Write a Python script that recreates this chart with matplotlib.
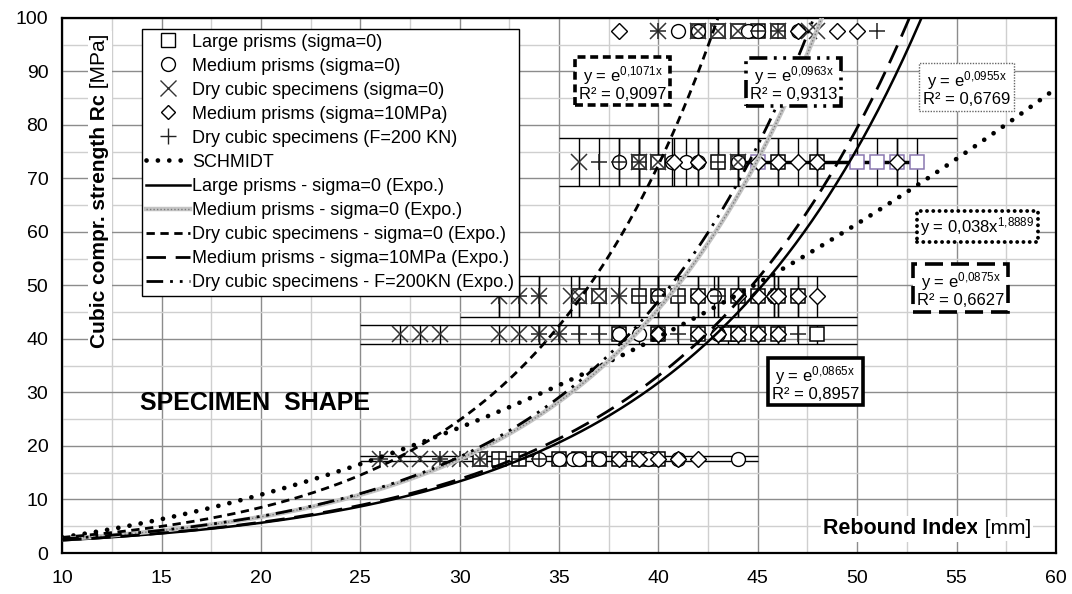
import matplotlib
matplotlib.use("Agg")
import numpy as np
import matplotlib.pyplot as plt
from matplotlib.lines import Line2D
from matplotlib.ticker import MultipleLocator

plt.rcParams['font.family'] = ['Liberation Sans', 'DejaVu Sans']
plt.rcParams['mathtext.fontset'] = 'custom'
plt.rcParams['mathtext.rm'] = 'Liberation Sans'

# ---- measured points: rebound index (x) vs cubic strength (y) ----
large_x = [31, 32, 33, 35, 36, 37, 38, 39, 40,
           38, 40, 42, 43.5, 44, 45, 46, 48,
           36, 37, 39, 40, 41, 42, 43, 44, 45, 46, 47,
           39, 40, 43, 44, 46, 48,
           42, 43, 44, 45, 46]
large_y = [17.5, 17.5, 17.5, 17.5, 17.5, 17.5, 17.5, 17.5, 17.5,
           41, 41, 41, 41, 41, 41, 41, 41,
           48, 48, 48, 48, 48, 48, 48, 48, 48, 48, 48,
           73, 73, 73, 73, 73, 73,
           97.5, 97.5, 97.5, 97.5, 97.5]
large_violet_x = [45, 50, 51, 52, 53]
large_violet_y = [73, 73, 73, 73, 73]

medium_x = [34, 35, 35.7, 36, 37, 39.5, 41, 44,
            38, 39, 40, 43,
            40, 42.8, 45.8,
            38, 40.7, 41.4, 42, 44,
            41, 42, 44.5, 45, 47]
medium_y = [17.5, 17.5, 17.5, 17.5, 17.5, 17.5, 17.5, 17.5,
            41, 41, 41, 41,
            48, 48, 48,
            73, 73, 73, 73, 73,
            97.5, 97.5, 97.5, 97.5, 97.5]

drycube_x = [26, 27, 28, 29, 30, 31,
             27, 28, 29, 32, 33, 34, 35,
             32, 33, 34, 35.6, 36, 37, 38,
             36, 39, 40, 44,
             40, 42, 43, 44, 46, 47.6, 48]
drycube_y = [17.5, 17.5, 17.5, 17.5, 17.5, 17.5,
             41, 41, 41, 41, 41, 41, 41,
             48, 48, 48, 48, 48, 48, 48,
             73, 73, 73, 73,
             97.5, 97.5, 97.5, 97.5, 97.5, 97.5, 97.5]

medium10_x = [38, 39, 40, 41, 42,
              40, 42, 43, 44, 45, 46,
              42, 44, 45, 45.8, 46, 47, 48,
              40.8, 42, 45, 46, 47, 48, 52,
              38, 47, 49, 50]
medium10_y = [17.5, 17.5, 17.5, 17.5, 17.5,
              41, 41, 41, 41, 41, 41,
              48, 48, 48, 48, 48, 48, 48,
              73, 73, 73, 73, 73, 73, 73,
              97.5, 97.5, 97.5, 97.5]

cubeF_x = [26, 29, 30, 31, 32, 33, 34,
           34, 35, 36, 37, 41, 47,
           32, 33, 34, 38, 39, 40, 41, 43,
           37, 38, 39, 43,
           40, 45, 46, 51]
cubeF_y = [17.5, 17.5, 17.5, 17.5, 17.5, 17.5, 17.5,
           41, 41, 41, 41, 41, 41,
           48, 48, 48, 48, 48, 48, 48, 48,
           73, 73, 73, 73,
           97.5, 97.5, 97.5, 97.5]

# scatter bands of each strength class (limits of the vertical bars)
band_level = [17.5, 41, 48, 73]
band_low = [17.2, 39.1, 44.1, 68.5]
band_high = [18.2, 42.6, 51.8, 77.5]
band_from = [25, 25, 30, 35]
band_to = [45, 50, 50, 55]
link_x = [44, 53]
link_y = [73, 73]

# ---- regression laws ----
schmidt_a, schmidt_b = 0.038, 1.8889
k_large = 0.0865
k_medium = 0.0955
k_drycube = 0.1071
k_medium10 = 0.0875
k_cubeF = 0.0963

fig = plt.figure(figsize=(10.72, 5.94), dpi=100)
ax = fig.add_axes([0.058, 0.069, 0.927, 0.901])
ax.set_xlim(10, 60)
ax.set_ylim(0, 100)
ax.xaxis.set_major_locator(MultipleLocator(5))
ax.xaxis.set_minor_locator(MultipleLocator(2.5))
ax.yaxis.set_major_locator(MultipleLocator(10))
ax.yaxis.set_minor_locator(MultipleLocator(5))
ax.grid(which='major', color='#8c8c8c', lw=1.0, zorder=0)
ax.grid(which='minor', color='#cfcfcf', lw=1.0, zorder=0)
ax.set_axisbelow(True)
ax.tick_params(which='both', length=0, labelsize=14)
ax.tick_params(axis='x', pad=12)
ax.tick_params(axis='y', pad=10)
for s in ax.spines.values():
    s.set_linewidth(1.6)
    s.set_color('black')

# bands and vertical bars
for lv, lo, hi, x0, x1 in zip(band_level, band_low, band_high, band_from, band_to):
    ax.hlines([lo, hi], x0, x1, color='black', lw=1.0, zorder=2)
all_x = large_x + large_violet_x + medium_x + drycube_x + medium10_x + cubeF_x
all_y = large_y + large_violet_y + medium_y + drycube_y + medium10_y + cubeF_y
for xv, yv in zip(all_x, all_y):
    if yv in band_level:
        i = band_level.index(yv)
        ax.vlines(xv, band_low[i], band_high[i], color='black', lw=1.0, zorder=2)
ax.plot(link_x, link_y, color='black', lw=2.5, zorder=2)

mk = dict(ls='none', mfc='white', zorder=3)
ax.plot(large_x, large_y, marker='s', ms=10, mec='black', mew=1.1, **mk)
ax.plot(large_violet_x, large_violet_y, marker='s', ms=10, mec='#8a78b0', mew=1.1, **mk)
ax.plot(medium_x, medium_y, marker='o', ms=10, mec='black', mew=1.0, **mk)
ax.plot(medium10_x, medium10_y, marker='D', ms=8, mec='black', mew=1.0, **mk)
ax.plot(drycube_x, drycube_y, marker='x', ms=11, mec='#333333', mew=1.1, ls='none', zorder=4)
ax.plot(cubeF_x, cubeF_y, marker='+', ms=12, mec='#222222', mew=1.1, ls='none', zorder=4)

# fitted curves
xx = np.linspace(10, 60, 600)
schmidt_ls = (0, (0.01, 2.4))
gray_dots = (0, (1, 1.5))
cubeF_ls = (0, (6, 2.5, 1, 2.5, 1, 2.5))
ax.plot(xx, schmidt_a * xx ** schmidt_b, color='black', lw=3.4,
        ls=schmidt_ls, dash_capstyle='round', zorder=5)
ax.plot(xx, np.exp(k_large * xx), color='black', lw=1.8, zorder=5)
ax.plot(xx, np.exp(k_medium * xx), color='#c4c4c4', lw=3.2, zorder=5)
ax.plot(xx, np.exp(k_medium * xx), color='#7a7a7a', lw=1.0, ls=gray_dots, zorder=5)
ax.plot(xx, np.exp(k_drycube * xx), color='black', lw=2.0, ls=(0, (3, 2)), zorder=5)
ax.plot(xx, np.exp(k_medium10 * xx), color='black', lw=2.0, ls=(0, (7, 3.5)), zorder=5)
ax.plot(xx, np.exp(k_cubeF * xx), color='black', lw=2.0, ls=cubeF_ls, zorder=5)

# legend
h = [
    Line2D([], [], ls='none', marker='s', ms=10, mfc='white', mec='black'),
    Line2D([], [], ls='none', marker='o', ms=10, mfc='white', mec='black'),
    Line2D([], [], ls='none', marker='x', ms=11, mec='#333333', mew=1.0),
    Line2D([], [], ls='none', marker='D', ms=7.5, mfc='white', mec='black'),
    Line2D([], [], ls='none', marker='+', ms=12, mec='#222222', mew=1.0),
    Line2D([], [], color='black', lw=3.4, ls=schmidt_ls, dash_capstyle='round'),
    Line2D([], [], color='black', lw=1.8),
    (Line2D([], [], color='#c4c4c4', lw=3.2), Line2D([], [], color='#7a7a7a', lw=1.0, ls=gray_dots)),
    Line2D([], [], color='black', lw=2.0, ls=(0, (3, 2))),
    Line2D([], [], color='black', lw=2.0, ls=(0, (7, 3.5))),
    Line2D([], [], color='black', lw=2.0, ls=cubeF_ls),
]
labels = ['Large prisms (sigma=0)', 'Medium prisms (sigma=0)',
          'Dry cubic specimens (sigma=0)', 'Medium prisms (sigma=10MPa)',
          'Dry cubic specimens (F=200 KN)', 'SCHMIDT',
          'Large prisms - sigma=0 (Expo.)', 'Medium prisms - sigma=0 (Expo.)',
          'Dry cubic specimens - sigma=0 (Expo.)', 'Medium prisms - sigma=10MPa (Expo.)',
          'Dry cubic specimens - F=200KN (Expo.)']
leg = ax.legend(h, labels, loc='upper left', bbox_to_anchor=(0.080, 0.979),
                borderaxespad=0, fontsize=13, frameon=True, fancybox=False,
                edgecolor='black', framealpha=1, handlelength=2.4, handletextpad=0.15,
                labelspacing=0.39, borderpad=0.25)
leg.get_frame().set_linewidth(1.0)
leg.set_zorder(10)

# equation boxes
def eqbox(x, y, txt, **bb):
    ax.text(x, y, txt, ha='center', va='center', fontsize=12, linespacing=1.0,
            zorder=11, bbox=dict(boxstyle='square,pad=0.22', fc='white', **bb))

eqbox(38.2, 87.9, 'y = e$\\mathregular{^{0{,}1071x}}$\nR² = 0,9097',
      ec='black', lw=2.6, ls=(0, (2.2, 1.3)))
eqbox(46.8, 87.8, 'y = e$\\mathregular{^{0{,}0963x}}$\nR² = 0,9313',
      ec='black', lw=2.6, ls=(0, (5, 1.8, 0.8, 1.8, 0.8, 1.8)))
eqbox(55.5, 86.9, 'y = e$\\mathregular{^{0{,}0955x}}$\nR² = 0,6769',
      ec='#666666', lw=1.0, ls=(0, (1, 1)))
eqbox(56.05, 61.0, 'y = 0,038x$\\mathregular{^{1{,}8889}}$',
      ec='black', lw=2.8, ls=(0, (0.01, 1.6)), capstyle='round')
eqbox(55.2, 49.3, 'y = e$\\mathregular{^{0{,}0875x}}$\nR² = 0,6627',
      ec='black', lw=2.6, ls=(0, (5, 2.2)))
eqbox(47.9, 31.8, 'y = e$\\mathregular{^{0{,}0865x}}$\nR² = 0,8957',
      ec='black', lw=2.6)

ax.text(13.9, 28.0, 'SPECIMEN  SHAPE', fontsize=18, fontweight='bold',
        ha='left', va='center', zorder=11)

# axis titles drawn inside the frame
t1 = ax.text(48.3, 4.5, 'Rebound Index', fontsize=15.5, fontweight='bold',
             ha='left', va='center', zorder=11,
             bbox=dict(boxstyle='square,pad=0.1', fc='white', ec='none'))
ax.annotate(' [mm]', xy=(1, 0.5), xycoords=t1, fontsize=15, ha='left', va='center',
            zorder=11, bbox=dict(boxstyle='square,pad=0.1', fc='white', ec='none'))
t2 = ax.text(11.9, 38.3, 'Cubic compr. strength Rc', fontsize=15, fontweight='bold',
             rotation=90, ha='center', va='bottom', zorder=11,
             bbox=dict(boxstyle='square,pad=0.1', fc='white', ec='none'))
ax.annotate(' [MPa]', xy=(0.5, 1), xycoords=t2, fontsize=15, rotation=90,
            ha='center', va='bottom', zorder=11,
            bbox=dict(boxstyle='square,pad=0.1', fc='white', ec='none'))

fig.savefig('out.png', dpi=100)
